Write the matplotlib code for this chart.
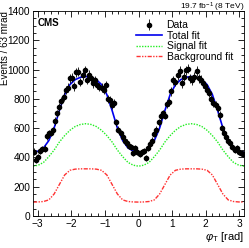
import numpy as np
import matplotlib
matplotlib.use("Agg")
import matplotlib.pyplot as plt
from matplotlib.ticker import MultipleLocator

plt.rcParams['font.family'] = ['Liberation Sans', 'DejaVu Sans']
plt.rcParams['mathtext.fontset'] = 'custom'
plt.rcParams['mathtext.rm'] = 'Liberation Sans'
plt.rcParams['mathtext.it'] = 'Liberation Sans:italic'

# ---- data (100 bins of 63 mrad from -pi to pi) ----
data_counts = [
    440, 380, 405, 445, 455, 460, 545, 565, 570, 585,
    650, 700, 745, 785, 815, 860, 875, 940, 945, 885,
    980, 985, 915, 960, 995, 930, 965, 940, 905, 925,
    895, 880, 875, 860, 895, 800, 790, 760, 770, 640,
    590, 565, 540, 510, 500, 480, 470, 430, 465, 440,
    425, 435, 445, 395, 465, 490, 515, 560, 590, 640,
    680, 700, 685, 765, 780, 850, 925, 915, 960, 990,
    905, 950, 995, 1005, 940, 925, 950, 990, 940, 930,
    905, 885, 860, 840, 800, 770, 755, 740, 690, 600,
    570, 540, 515, 500, 470, 450, 465, 435, 430, 420,
]

# ---- fit curves sampled at 41 points from -pi to pi ----
total_fit = [
    435, 443, 465, 515, 600, 720, 829, 897, 931, 947, 952, 947, 931, 897, 829, 720, 600, 515, 465, 443,
    435, 443, 465, 515, 600, 720, 829, 897, 931, 947, 952, 947, 931, 897, 829, 720, 600, 515, 465, 443, 435,
]
signal_fit = [
    340, 347, 366, 405, 450, 505, 549, 585, 611, 625, 630, 625, 611, 585, 549, 505, 450, 405, 366, 347,
    340, 347, 366, 405, 450, 505, 549, 585, 611, 625, 630, 625, 611, 585, 549, 505, 450, 405, 366, 347, 340,
]
background_fit = [
    95, 96, 99, 110, 150, 215, 280, 312, 320, 322, 322, 322, 320, 312, 280, 215, 150, 110, 99, 96,
    95, 96, 99, 110, 150, 215, 280, 312, 320, 322, 322, 322, 320, 312, 280, 215, 150, 110, 99, 96, 95,
]

x_ticks = [-3, -2, -1, 0, 1, 2, 3]
y_ticks = [0, 200, 400, 600, 800, 1000, 1200, 1400]

nb = len(data_counts)
edges = np.linspace(-np.pi, np.pi, nb + 1)
centers = 0.5 * (edges[:-1] + edges[1:])
counts = np.array(data_counts, dtype=float)
errs = np.sqrt(counts)
phi_fit = np.linspace(-np.pi, np.pi, len(total_fit))

fig = plt.figure(figsize=(2.49, 2.48), dpi=100)
ax = fig.add_axes([0.1325, 0.129, 0.8475, 0.827])

ax.plot(phi_fit, signal_fit, color='#22ee22', lw=1.0, ls=(0, (1, 1)), label='Signal fit', zorder=2)
ax.plot(phi_fit, background_fit, color='#ff3333', lw=1.0, ls=(0, (3, 1, 1, 1, 1, 1)),
        label='Background fit', zorder=2)
ax.plot(phi_fit, total_fit, color='#0000ee', lw=1.2, label='Total fit', zorder=3)
eb = ax.errorbar(centers, counts, yerr=errs, fmt='o', color='black', ms=3.0, elinewidth=0.6,
                 capsize=0, label='Data', zorder=4)

ax.set_xlim(-np.pi, np.pi)
ax.set_ylim(0, 1400)
ax.set_xticks(x_ticks)
ax.set_yticks(y_ticks)
ax.xaxis.set_minor_locator(MultipleLocator(0.2))
ax.yaxis.set_minor_locator(MultipleLocator(50))
ax.tick_params(which='both', direction='in', top=True, right=True, labelsize=7.3, width=0.6, pad=2)
ax.tick_params(which='major', length=4.5)
ax.tick_params(which='minor', length=2.3)
for s in ax.spines.values():
    s.set_linewidth(0.6)

ax.set_xlabel(r'$\varphi_{\mathrm{T}}$ [rad]', fontsize=8, loc='right', labelpad=1)
ax.set_ylabel('Events / 63 mrad', fontsize=7, loc='top')
ax.yaxis.set_label_coords(-0.11, 1.0)

ax.text(0.02, 0.965, 'CMS', transform=ax.transAxes, fontsize=7, fontweight='bold', va='top', ha='left')
fig.text(0.98, 0.963, r'19.7 fb$^{-1}$ (8 TeV)', fontsize=6, ha='right', va='baseline')

handles, labels = ax.get_legend_handles_labels()
order = ['Data', 'Total fit', 'Signal fit', 'Background fit']
hmap = dict(zip(labels, handles))
leg = ax.legend([hmap[k] for k in order], order, loc='upper left', bbox_to_anchor=(0.46, 0.985),
                frameon=False, fontsize=7.5, handlelength=2.5, handletextpad=0.4,
                labelspacing=0.05, borderaxespad=0.2)

fig.savefig('out.png', dpi=100)
